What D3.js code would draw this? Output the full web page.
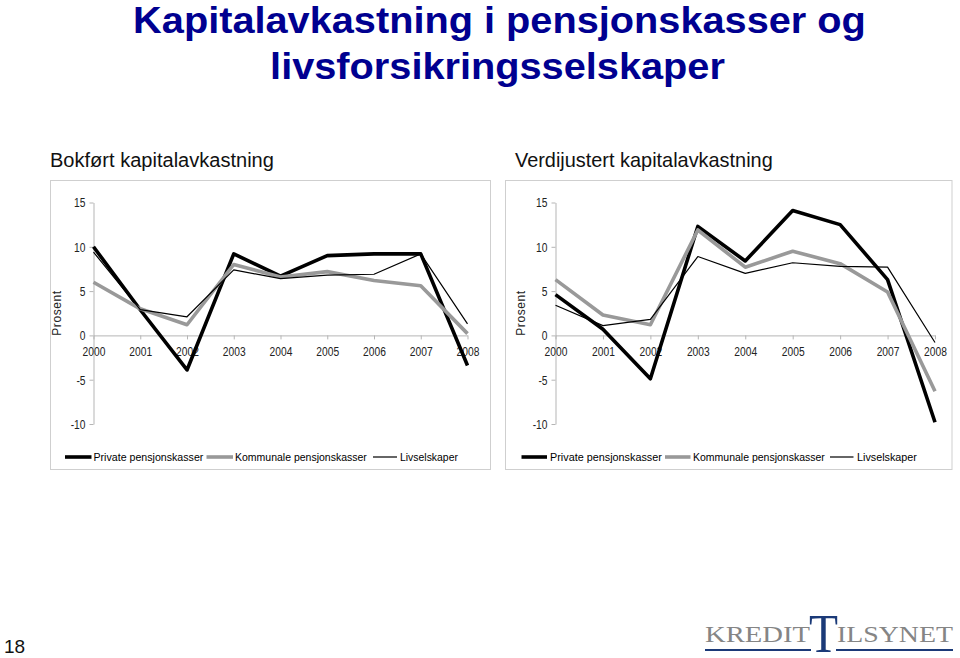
<!DOCTYPE html>
<html>
<head>
<meta charset="utf-8">
<script src="https://cdn.jsdelivr.net/npm/d3@7"></script>
<style>
  html, body { margin: 0; padding: 0; background: #fff; }
  svg { display: block; }
</style>
</head>
<body>
<script>
// ---------- DATA ----------
const years = ["2000", "2001", "2002", "2003", "2004", "2005", "2006", "2007", "2008"];
const yTicks = [-10, -5, 0, 5, 10, 15];

// Bokført kapitalavkastning (percent)
const bokPrivate    = [10.0, 2.9, -3.9, 9.2, 6.7, 9.0, 9.2, 9.2, -3.4];
const bokKommunale  = [6.0, 3.0, 1.2, 8.0, 6.6, 7.2, 6.2, 5.6, 0.2];
const bokLivsel     = [9.4, 2.9, 2.1, 7.4, 6.4, 6.8, 6.9, 9.2, 1.3];

// Verdijustert kapitalavkastning (percent)
const verPrivate    = [4.6, 0.7, -4.9, 12.3, 8.4, 14.1, 12.5, 6.3, -9.8];
const verKommunale  = [6.3, 2.3, 1.2, 11.9, 7.7, 9.5, 8.1, 4.9, -6.3];
const verLivsel     = [3.4, 1.1, 1.8, 8.9, 7.0, 8.2, 7.8, 7.7, -0.8];

const seriesNames = ["Private pensjonskasser", "Kommunale pensjonskasser", "Livselskaper"];
const titleLines = ["Kapitalavkastning i pensjonskasser og", "livsforsikringsselskaper"];
const panelTitles = ["Bokført kapitalavkastning", "Verdijustert kapitalavkastning"];
const yAxisLabel = "Prosent";

// ---------- DRAW ----------
const W = 960, H = 658;
const svg = d3.select("body").append("svg").attr("width", W).attr("height", H);

const sansFont = "'Liberation Sans', Arial, Helvetica, sans-serif";
const serifFont = "'Liberation Serif', 'Times New Roman', serif";

// scale text horizontally about its x position to a target width
function fitWidth(textSel, target) {
  const node = textSel.node();
  const w = node.getComputedTextLength();
  const x = +textSel.attr("x") || 0;
  const s = target / w;
  textSel.attr("transform", `translate(${x},0) scale(${s},1) translate(${-x},0)`);
}

// Title
const title1 = svg.append("text").attr("x", 499.5).attr("y", 33)
  .attr("text-anchor", "middle").attr("font-family", sansFont).attr("font-weight", "bold")
  .attr("font-size", 37).attr("fill", "#000090").text(titleLines[0]);
fitWidth(title1, 733);
const title2 = svg.append("text").attr("x", 497.5).attr("y", 79)
  .attr("text-anchor", "middle").attr("font-family", sansFont).attr("font-weight", "bold")
  .attr("font-size", 37).attr("fill", "#000090").text(titleLines[1]);
fitWidth(title2, 455);

const styles = [
  { color: "#000000", width: 3.6 },
  { color: "#999999", width: 3.6 },
  { color: "#000000", width: 1.2 }
];

function drawPanel(cfg) {
  const g = svg.append("g");
  // subtitle
  const st = g.append("text").attr("x", cfg.subX).attr("y", 167)
    .attr("font-family", sansFont).attr("font-size", 20).attr("fill", "#111")
    .text(cfg.subtitle);
  fitWidth(st, cfg.subW);

  // frame
  g.append("rect").attr("x", cfg.fx0).attr("y", 180.5)
    .attr("width", cfg.fx1 - cfg.fx0).attr("height", 289)
    .attr("fill", "none").attr("stroke", "#cfcfcf").attr("stroke-width", 1);

  const x = d3.scalePoint().domain(years).range([cfg.ax0, cfg.ax1]);
  const y = d3.scaleLinear().domain([-10, 15]).range([424, 202.5]);

  const axisColor = "#b5b5b5";
  const yAxis = g.append("g").attr("transform", `translate(${cfg.ax0},0)`)
    .call(d3.axisLeft(y).tickValues(yTicks).tickSize(4).tickSizeOuter(0).tickPadding(4)
      .tickFormat(d => String(d)));
  const xAxis = g.append("g").attr("transform", `translate(0,${y(0)})`)
    .call(d3.axisBottom(x).tickSize(4).tickSizeOuter(0).tickPadding(7));

  [yAxis, xAxis].forEach(a => {
    a.select(".domain").attr("stroke", axisColor);
    a.selectAll(".tick line").attr("stroke", axisColor);
    a.selectAll(".tick text").attr("font-family", sansFont).attr("font-size", 13.5)
      .attr("fill", "#222");
  });
  const sx = 0.76;
  xAxis.selectAll(".tick text").attr("transform", `scale(${sx},1)`);
  yAxis.selectAll(".tick text").each(function () {
    const t = d3.select(this);
    const tx = +t.attr("x");
    t.attr("transform", `translate(${tx},0) scale(${sx},1) translate(${-tx},0)`);
  });

  // Prosent label
  g.append("text")
    .attr("transform", `translate(${cfg.labX},313) rotate(-90)`)
    .attr("text-anchor", "middle").attr("font-family", sansFont).attr("font-size", 12)
    .attr("letter-spacing", 0.6).attr("fill", "#222").text(yAxisLabel);

  // lines
  const line = d3.line().x((d, i) => x(years[i])).y(d => y(d));
  cfg.series.forEach((vals, i) => {
    g.append("path").datum(vals).attr("d", line).attr("fill", "none")
      .attr("stroke", styles[i].color).attr("stroke-width", styles[i].width)
      .attr("stroke-linejoin", "round").attr("stroke-linecap", "butt");
  });

  // legend
  const ly = 457;
  cfg.legend.forEach((L, i) => {
    g.append("line").attr("x1", L.lx0).attr("x2", L.lx1).attr("y1", ly).attr("y2", ly)
      .attr("stroke", styles[i].color).attr("stroke-width", styles[i].width);
    const t = g.append("text").attr("x", L.tx).attr("y", ly + 4)
      .attr("font-family", sansFont).attr("font-size", 11.5).attr("fill", "#000")
      .text(seriesNames[i]);
    fitWidth(t, L.tw);
  });
}

drawPanel({
  subtitle: panelTitles[0], subX: 50, subW: 224,
  fx0: 50.5, fx1: 490.5, ax0: 93.5, ax1: 467.5, labX: 61,
  series: [bokPrivate, bokKommunale, bokLivsel],
  legend: [
    { lx0: 65, lx1: 91.5, tx: 93.5, tw: 110 },
    { lx0: 206.5, lx1: 233, tx: 235, tw: 132 },
    { lx0: 373, lx1: 397, tx: 400, tw: 58 }
  ]
});
drawPanel({
  subtitle: panelTitles[1], subX: 515, subW: 258,
  fx0: 505.5, fx1: 952, ax0: 555.5, ax1: 935, labX: 525,
  series: [verPrivate, verKommunale, verLivsel],
  legend: [
    { lx0: 521.5, lx1: 547, tx: 550, tw: 112 },
    { lx0: 665, lx1: 690.5, tx: 693, tw: 132 },
    { lx0: 830, lx1: 853.5, tx: 857, tw: 60 }
  ]
});

// page number
svg.append("text").attr("x", 4).attr("y", 653).attr("font-family", sansFont)
  .attr("font-size", 19).attr("fill", "#111").text("18");

// logo
const logoGrey = "#858585", logoBlue = "#1b3a78";
const k = svg.append("text").attr("x", 705).attr("y", 642).attr("font-family", serifFont)
  .attr("font-size", 24).attr("fill", logoGrey).text("KREDIT");
fitWidth(k, 105);
const bigT = svg.append("text").attr("x", 809).attr("y", 652).attr("font-family", serifFont)
  .attr("font-size", 55).attr("fill", logoBlue).text("T");
fitWidth(bigT, 29);
const ils = svg.append("text").attr("x", 837).attr("y", 642).attr("font-family", serifFont)
  .attr("font-size", 24).attr("fill", logoGrey).text("ILSYNET");
fitWidth(ils, 116);
svg.append("line").attr("x1", 705).attr("x2", 811).attr("y1", 650).attr("y2", 650)
  .attr("stroke", logoBlue).attr("stroke-width", 2);
svg.append("line").attr("x1", 836).attr("x2", 953).attr("y1", 650).attr("y2", 650)
  .attr("stroke", logoBlue).attr("stroke-width", 2);
</script>
</body>
</html>
